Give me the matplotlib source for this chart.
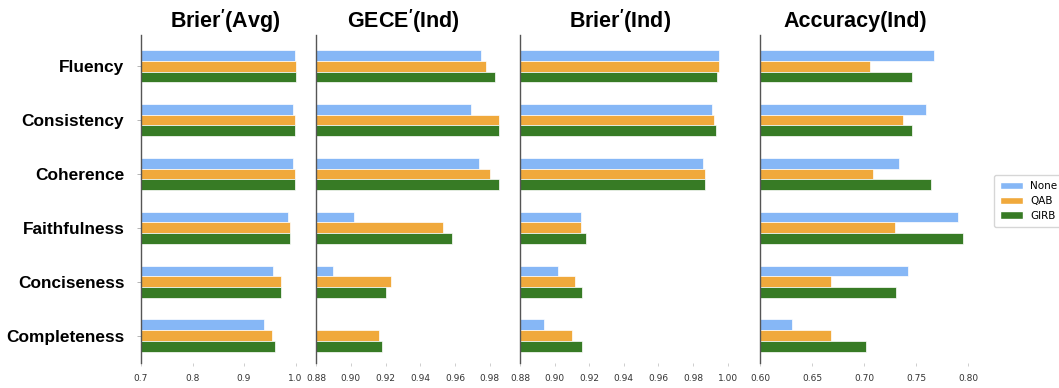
import matplotlib.pyplot as plt
import numpy as np
from matplotlib.patches import Patch

aspects = ['Fluency', 'Consistency', 'Coherence', 'Faithfulness', 'Conciseness', 'Completeness']
methods = ['None', 'QAB', 'GIRB']
colors = ['#86b7f6', '#f0a93c', '#377b25']

# per panel scores, one list per method (None, QAB, GIRB), aspects in order above
brier_avg = [
    [0.998, 0.996, 0.996, 0.985, 0.957, 0.938],
    [1.000, 0.998, 0.999, 0.989, 0.972, 0.955],
    [1.000, 0.998, 0.999, 0.989, 0.972, 0.960],
]
gece_ind = [
    [0.975, 0.969, 0.974, 0.902, 0.890, 0.875],
    [0.978, 0.985, 0.980, 0.953, 0.923, 0.916],
    [0.983, 0.985, 0.985, 0.958, 0.920, 0.918],
]
brier_ind = [
    [0.995, 0.991, 0.986, 0.915, 0.902, 0.894],
    [0.995, 0.992, 0.987, 0.915, 0.912, 0.910],
    [0.994, 0.993, 0.987, 0.918, 0.916, 0.916],
]
acc_ind = [
    [0.767, 0.759, 0.734, 0.790, 0.742, 0.631],
    [0.706, 0.737, 0.709, 0.730, 0.668, 0.668],
    [0.746, 0.746, 0.764, 0.795, 0.731, 0.702],
]

titles = [r'Brier$^{\prime}$(Avg)', r'GECE$^{\prime}$(Ind)', r'Brier$^{\prime}$(Ind)', 'Accuracy(Ind)']
title_x = [225, 403, 620, 855]
xticks = [
    [0.7, 0.8, 0.9, 1.0],
    [0.88, 0.90, 0.92, 0.94, 0.96, 0.98],
    [0.88, 0.90, 0.92, 0.94, 0.96, 0.98, 1.00],
    [0.60, 0.65, 0.70, 0.75, 0.80],
]
xfmt = ['{:.1f}', '{:.2f}', '{:.2f}', '{:.2f}']
xlims = [(0.7, 1.03), (0.88, 0.995), (0.88, 1.01), (0.6, 0.82)]
# left / right edges in pixels
edges = [(141, 311), (316, 516), (520, 745), (760, 989)]

W, H = 1059, 388
fig = plt.figure(figsize=(W / 100, H / 100), dpi=100)
plt.rcParams['mathtext.fontset'] = 'custom'
plt.rcParams['mathtext.rm'] = 'Liberation Sans:bold'
plt.rcParams['mathtext.it'] = 'Liberation Sans:bold'
plt.rcParams['mathtext.bf'] = 'Liberation Sans:bold'

top, bottom = 35, 363
ypos = np.arange(len(aspects))[::-1]
h = 0.2

for i, data in enumerate([brier_avg, gece_ind, brier_ind, acc_ind]):
    l, r = edges[i]
    ax = fig.add_axes([l / W, 1 - bottom / H, (r - l) / W, (bottom - top) / H])
    for j, vals in enumerate(data):
        ax.barh(ypos + h * (1 - j), vals, height=h, color=colors[j],
                edgecolor='white', linewidth=0.5)
    ax.set_xlim(*xlims[i])
    ax.set_ylim(-0.51, 5.58)
    ax.set_xticks(xticks[i])
    ax.set_xticklabels([xfmt[i].format(t) for t in xticks[i]], fontsize=6.5, color='#333333')
    ax.tick_params(axis='x', length=2, width=0.5, color='#bbbbbb', pad=6)
    for s in ['top', 'right', 'bottom']:
        ax.spines[s].set_visible(False)
    ax.spines['left'].set_color('#555555')
    ax.spines['left'].set_linewidth(1.0)
    if i == 0:
        ax.set_yticks(ypos)
        ax.set_yticklabels(aspects, fontsize=12.4, fontweight='bold', family='Liberation Sans')
        ax.tick_params(axis='y', length=3, width=0.5, color='#999999', pad=9)
    else:
        ax.set_yticks([])
    fig.text(title_x[i] / W, 1 - 21 / H, titles[i], ha='center', va='center',
             fontsize=15.5, fontweight='bold', family='Liberation Sans')

handles = [Patch(facecolor=c, edgecolor='white', label=m) for c, m in zip(colors, methods)]
fig.legend(handles=handles, loc='upper left', bbox_to_anchor=(994 / W, 1 - 175 / H),
           fontsize=7.5, frameon=True, edgecolor='#cccccc', handlelength=2.2,
           handletextpad=0.7, borderpad=0.6, labelspacing=0.45, borderaxespad=0)

fig.savefig('out.png', dpi=100)
